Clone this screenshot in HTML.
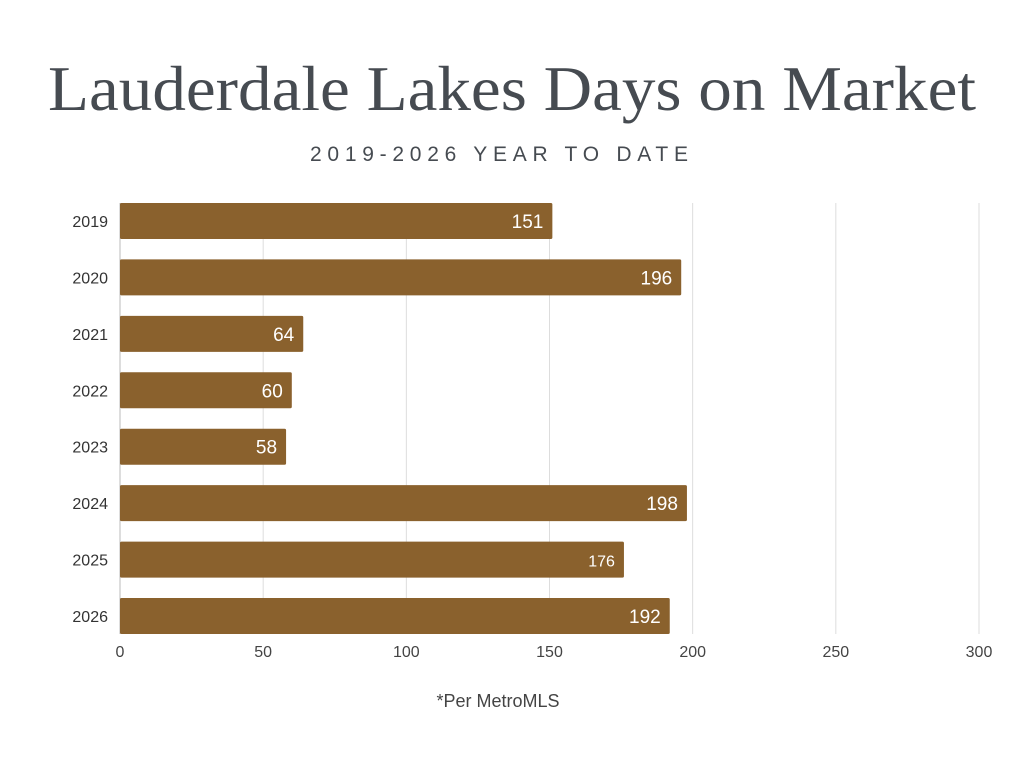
<!DOCTYPE html>
<html><head><meta charset="utf-8"><style>
html,body{margin:0;padding:0;background:#fff;}
svg{display:block;}
</style></head><body>
<svg id="chart" width="1024" height="768" xmlns="http://www.w3.org/2000/svg">
<text x="512" y="110" text-anchor="middle" font-family="Liberation Serif, serif" font-size="64" fill="#464b51" textLength="928" lengthAdjust="spacingAndGlyphs">Lauderdale Lakes Days on Market</text>
<text x="499" y="161" text-anchor="middle" font-family="Liberation Sans, sans-serif" font-size="21" fill="#464b51" textLength="378" lengthAdjust="spacing">2019-2026 YEAR TO DATE</text>
<g id="grid"></g>
<g id="bars"></g>
<g id="ylabels"></g>
<g id="xlabels"></g>
<text x="498" y="707" text-anchor="middle" font-family="Liberation Sans, sans-serif" font-size="18" fill="#444">*Per MetroMLS</text>
</svg>
<script>
const categories = ["2019","2020","2021","2022","2023","2024","2025","2026"];
const values = [151,196,64,60,58,198,176,192];
const ticks = [0,50,100,150,200,250,300];
const NS="http://www.w3.org/2000/svg";
const x0=120,x1=979,maxV=300,top0=203,step=56.43,bh=36,gridTop=203,gridBot=634;
const xs=v=>x0+(v/maxV)*(x1-x0);
const ys=i=>top0+i*step;
function mk(tag,attrs,parent){const e=document.createElementNS(NS,tag);for(const k in attrs)e.setAttribute(k,attrs[k]);parent.appendChild(e);return e;}
const grid=document.getElementById('grid'),bars=document.getElementById('bars'),yl=document.getElementById('ylabels'),xl=document.getElementById('xlabels');
ticks.forEach(t=>{
  const l=mk('line',{x1:xs(t),x2:xs(t),y1:gridTop,y2:gridBot,stroke:t===0?'#bbb':'#ddd','stroke-width':1},grid);
  
  
  const tx=mk('text',{x:xs(t),y:657,'text-anchor':'middle','font-family':'Liberation Sans, sans-serif','font-size':16,fill:'#444'},xl);
  tx.textContent=t;
  
  
});
categories.forEach((c,i)=>{
  const y=ys(i);
  const r=mk('rect',{x:x0,y:y,width:xs(values[i])-x0,height:bh,fill:'#8a612d',rx:1.5},bars);
  
  
  const v=mk('text',{x:xs(values[i])-9,y:y+bh/2+7,'text-anchor':'end','font-family':'Liberation Sans, sans-serif','font-size':values[i]===176?16:19,fill:'#fff'},bars);
  v.textContent=values[i];
  
  
  const lb=mk('text',{x:108,y:y+bh/2+6,'text-anchor':'end','font-family':'Liberation Sans, sans-serif','font-size':16,fill:'#333'},yl);
  lb.textContent=c;
  
  
});
</script>
</body></html>
